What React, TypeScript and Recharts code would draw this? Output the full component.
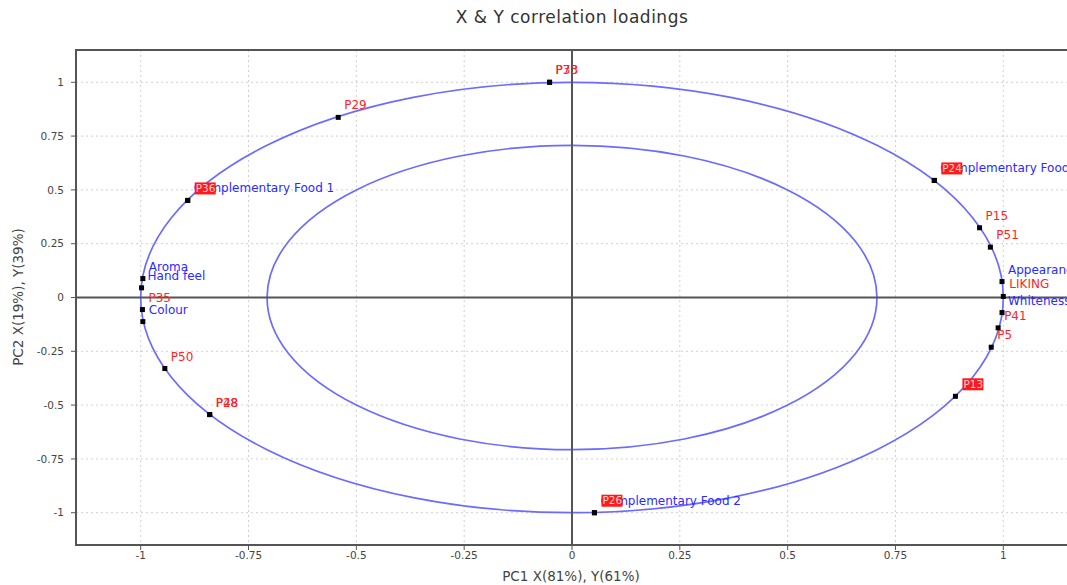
import React from 'react';
import { ScatterChart, Scatter, XAxis, YAxis, CartesianGrid, ReferenceLine, ReferenceArea } from 'recharts';

const loadingNames = [
  'P73', 'P33', 'P29', 'Complementary Food 1', 'P36', 'Aroma', 'Hand feel', 'P35', 'Colour', 'P50',
  'P28', 'P48', 'Complementary Food 2', 'P26', 'Complementary Food 3', 'P24', 'P15', 'P51',
  'Appearance', 'LIKING', 'Whiteness', 'P41', 'P5', 'P13',
];
const pc1Values = [
  -0.052, -0.052, -0.542, -0.891, -0.891, -0.995, -0.998, -0.996, -0.995, -0.944,
  -0.84, -0.84, 0.052, 0.052, 0.84, 0.84, 0.945, 0.97,
  0.997, 1.0, 0.997, 0.988, 0.972, 0.889,
];
const pc2Values = [
  1.0, 1.0, 0.837, 0.451, 0.451, 0.088, 0.045, -0.056, -0.112, -0.33,
  -0.544, -0.544, -1.0, -1.0, 0.544, 0.544, 0.324, 0.234,
  0.074, 0.005, -0.07, -0.141, -0.231, -0.459,
];
const variableBlock = [
  'Y', 'Y', 'Y', 'X', 'Y', 'X', 'X', 'Y', 'X', 'Y',
  'Y', 'Y', 'X', 'Y', 'X', 'Y', 'Y', 'Y',
  'X', 'Y', 'X', 'Y', 'Y', 'Y',
];
const boxedLabel = [
  false, false, false, false, true, false, false, false, false, false,
  false, false, false, true, false, true, false, false,
  false, false, false, false, false, true,
];
const axisTicks = [-1, -0.75, -0.5, -0.25, 0, 0.25, 0.5, 0.75, 1];
const circleRadii = [1, 0.707];
const axisLimit = 1.15;

const points = loadingNames.map((name, i) => ({
  name,
  pc1: pc1Values[i],
  pc2: pc2Values[i],
  block: variableBlock[i],
  boxed: boxedLabel[i],
}));
const xPoints = points.filter((p) => p.block === 'X');
const yPoints = points.filter((p) => p.block === 'Y');

const FONT = '"DejaVu Sans", Verdana, sans-serif';

const LoadingMark = (props: any) => {
  const { cx, cy, payload } = props;
  if (cx == null || cy == null) return <g />;
  const isX = payload.block === 'X';
  return (
    <g>
      <rect x={cx - 2.5} y={cy - 2.5} width={5} height={5} fill="#000" />
      {payload.boxed ? (
        <g>
          <rect x={cx + 7} y={cy - 18} width={21} height={12} fill="#ff1a1a" />
          <text x={cx + 8} y={cy - 8.5} fontSize={10.5} fill="#ffcfcf" fontFamily={FONT}>
            {payload.name}
          </text>
        </g>
      ) : (
        <text x={cx + 6} y={cy - 8} fontSize={12} fill={isX ? '#2a2aff' : '#ff2424'} fontFamily={FONT}>
          {payload.name}
        </text>
      )}
    </g>
  );
};

const EllipseShape = (props: any) => {
  const { x, y, width, height } = props;
  return (
    <ellipse
      cx={x + width / 2}
      cy={y + height / 2}
      rx={Math.abs(width) / 2}
      ry={Math.abs(height) / 2}
      fill="none"
      stroke="#6b6bff"
      strokeWidth={1.7}
    />
  );
};

export default function App() {
  return (
    <div style={{ position: 'absolute', left: 0, top: 0, width: 1067, height: 585, overflow: 'hidden', background: '#fff' }}>
      <div
        style={{
          position: 'absolute',
          left: 572,
          top: 7,
          transform: 'translateX(-50%)',
          whiteSpace: 'nowrap',
          fontFamily: FONT,
          fontSize: 17,
          letterSpacing: 0.5,
          color: '#333',
        }}
      >
        X &amp; Y correlation loadings
      </div>
      <div
        style={{
          position: 'absolute',
          left: 571,
          top: 568,
          transform: 'translateX(-50%)',
          whiteSpace: 'nowrap',
          fontFamily: FONT,
          fontSize: 13.5,
          color: '#444',
        }}
      >
        PC1 X(81%), Y(61%)
      </div>
      <div
        style={{
          position: 'absolute',
          left: 18,
          top: 297,
          transform: 'translate(-50%, -50%) rotate(-90deg)',
          whiteSpace: 'nowrap',
          fontFamily: FONT,
          fontSize: 13.5,
          color: '#444',
        }}
      >
        PC2 X(19%), Y(39%)
      </div>
      <div style={{ position: 'absolute', left: 0, top: 0 }}>
        <ScatterChart width={1080} height={585} margin={{ top: 50, right: 12, bottom: 10, left: 0 }}>
          <CartesianGrid strokeDasharray="2 3" stroke="#cfcfcf" />
          <XAxis
            type="number"
            dataKey="pc1"
            domain={[-axisLimit, axisLimit]}
            ticks={axisTicks}
            allowDataOverflow
            height={30}
            tick={{ fontSize: 10.5, fill: '#444', fontFamily: FONT }}
            tickLine={{ stroke: '#555' }}
            axisLine={{ stroke: '#555', strokeWidth: 2 }}
            tickSize={5}
          />
          <YAxis
            type="number"
            dataKey="pc2"
            domain={[-axisLimit, axisLimit]}
            ticks={axisTicks}
            allowDataOverflow
            width={76}
            tick={{ fontSize: 10.5, fill: '#444', fontFamily: FONT }}
            tickLine={{ stroke: '#555' }}
            axisLine={{ stroke: '#555', strokeWidth: 2 }}
            tickSize={5}
            tickMargin={7}
          />
          <ReferenceLine x={0} stroke="#555" strokeWidth={2} />
          <ReferenceLine y={0} stroke="#555" strokeWidth={2} />
          <ReferenceArea
            x1={-axisLimit}
            x2={axisLimit}
            y1={-axisLimit}
            y2={axisLimit}
            fill="none"
            fillOpacity={0}
            stroke="#555"
            strokeWidth={2}
          />
          {circleRadii.map((r) => (
            <ReferenceArea key={r} x1={-r} x2={r} y1={-r} y2={r} shape={<EllipseShape />} />
          ))}
          <Scatter data={xPoints} shape={<LoadingMark />} isAnimationActive={false} />
          <Scatter data={yPoints} shape={<LoadingMark />} isAnimationActive={false} />
        </ScatterChart>
      </div>
    </div>
  );
}
